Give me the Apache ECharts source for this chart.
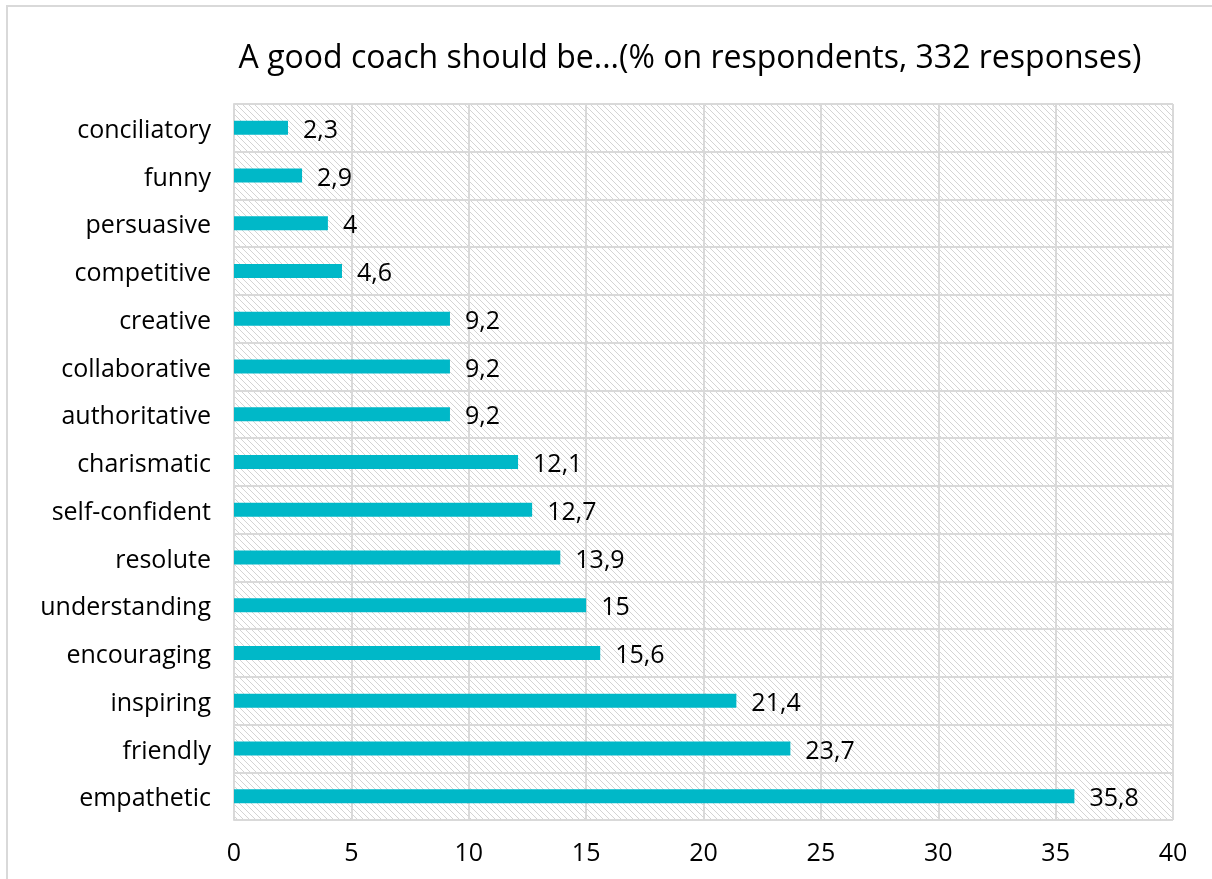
<!DOCTYPE html>
<html><head><meta charset="utf-8">
<script src="https://cdn.jsdelivr.net/npm/echarts@6/dist/echarts.min.js"></script>
<style>html,body{margin:0;padding:0;background:#fff}#c{width:1212px;height:879px}</style>
</head><body><div id="c"></div>
<script>
const categories = ['conciliatory','funny','persuasive','competitive','creative','collaborative','authoritative','charismatic','self-confident','resolute','understanding','encouraging','inspiring','friendly','empathetic'];
const values = [2.3,2.9,4,4.6,9.2,9.2,9.2,12.1,12.7,13.9,15,15.6,21.4,23.7,35.8];
const xTicks = [0,5,10,15,20,25,30,35,40];

function makePattern(){
  const c = document.createElement('canvas');
  const s = 6; c.width = s; c.height = s;
  const g = c.getContext('2d');
  g.fillStyle = '#ffffff'; g.fillRect(0,0,s,s);
  g.strokeStyle = '#d4d4d4'; g.lineWidth = 1;
  g.beginPath();
  g.moveTo(0,0); g.lineTo(s,s);
  g.moveTo(-s,0); g.lineTo(s,2*s);
  g.moveTo(0,-s); g.lineTo(2*s,s);
  g.stroke();
  return c;
}
const chart = echarts.init(document.getElementById('c'));
const font = '"Open Sans", sans-serif';
chart.setOption({
  animation:false,
  title:{text:'A good coach should be...(% on respondents, 332 responses)',left:685,top:38,textAlign:'center',
    textStyle:{fontFamily:'"Open Sans", sans-serif',fontSize:32,fontWeight:'normal',color:'#000'}},
  graphic:[{type:'rect',shape:{x:7,y:6,width:1220,height:890},style:{fill:'none',stroke:'#d9d9d9',lineWidth:2},silent:true}],
  grid:{left:234,right:39,top:104,bottom:59,show:true,backgroundColor:{image:makePattern(),repeat:'repeat'},borderWidth:0},
  xAxis:{type:'value',min:0,max:40,interval:5,
    axisLine:{show:false},axisTick:{show:false},
    splitLine:{show:true,lineStyle:{color:'#d9d9d9',width:2}},
    axisLabel:{margin:21,fontSize:25,color:'#000',fontFamily:font,
      formatter:v=>xTicks.includes(v)?String(v):''}},
  yAxis:{type:'category',data:categories,inverse:true,
    axisLine:{show:true,lineStyle:{color:'#d9d9d9',width:2}},axisTick:{show:false},
    splitLine:{show:true,lineStyle:{color:'#d9d9d9',width:2}},
    axisLabel:{margin:23,fontSize:25,color:'#000',fontFamily:font,
      formatter:v=>'{a|'+v+'}',
      rich:{a:{fontSize:25,color:'#000',fontFamily:font,padding:[6,0,0,0]}}}},
  series:[{type:'bar',data:values,barWidth:14,itemStyle:{color:'#00B8C8'},
    label:{show:true,position:'right',distance:15,fontSize:25,color:'#000',fontFamily:font,offset:[0,3],
      formatter:p=>String(p.value).replace('.',',')}}]
});
</script></body></html>
